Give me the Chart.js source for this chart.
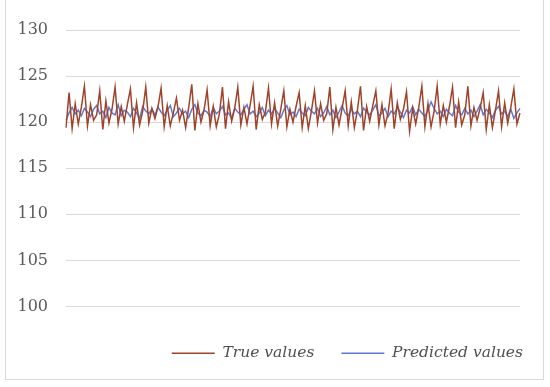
<!DOCTYPE html>
<html>
<head>
<meta charset="utf-8">
<script src="https://cdn.jsdelivr.net/npm/chart.js@4"></script>
<style>
  html, body { margin: 0; padding: 0; background: #ffffff; }
  #wrap { position: relative; width: 550px; height: 387px; }
  #frame { position: absolute; left: 5px; top: -1px; width: 539px; height: 381px;
           border: 1px solid #d9d9d9; box-sizing: border-box; }
  canvas { position: absolute; left: 0; top: 0; }
</style>
</head>
<body>
<div id="wrap">
  <div id="frame"></div>
  <canvas id="c" width="550" height="387"></canvas>
</div>
<script>
const seriesNames = ["True values", "Predicted values"];
const yTicks = [100, 105, 110, 115, 120, 125, 130];

const trueValues = [
  119.4,
  123.2, 119.3, 122.0, 119.8, 121.6,
  123.9, 119.6, 121.9, 120.2, 120.8,
  123.4, 119.2, 122.3, 119.9, 121.4,
  123.8, 119.8, 121.7, 120.1, 121.9,
  123.6, 119.4, 122.1, 119.7, 121.2,
  123.8, 119.9, 121.5, 120.4, 121.7,
  123.7, 119.5, 121.8, 119.6, 121.0,
  122.6, 120.2, 121.3, 119.4, 121.6,
  124.1, 119.1, 122.0, 120.0, 121.3,
  123.5, 119.6, 121.7, 119.5, 120.9,
  123.8, 119.3, 122.2, 120.1, 121.5,
  123.8, 119.7, 121.6, 119.8, 121.8,
  123.9, 119.2, 121.9, 120.3, 121.1,
  123.7, 119.8, 122.1, 119.6, 121.4,
  123.4, 119.5, 121.4, 120.0, 121.7,
  123.2, 119.4, 121.8, 119.3, 121.2,
  123.4, 119.9, 122.0, 120.2, 120.9,
  123.8, 119.2, 121.6, 119.7, 121.5,
  123.4, 119.6, 122.2, 119.4, 121.3,
  123.9, 119.1, 121.7, 120.1, 121.8,
  123.4, 119.7, 121.9, 119.6, 121.0,
  123.6, 119.3, 122.1, 120.3, 121.4,
  123.3, 119.0, 121.5, 119.8, 121.6,
  123.9, 119.5, 122.0, 119.5, 121.2,
  123.9, 119.8, 121.8, 120.0, 121.7,
  123.8, 119.4, 122.2, 119.7, 120.8,
  123.9, 119.6, 121.6, 120.2, 121.5,
  123.2, 119.2, 121.9, 119.4, 121.3,
  123.4, 119.5, 122.1, 119.9, 121.6,
  123.6, 119.8, 121.0
];

const predictedValues = [
  120.2, 121.0, 121.6, 120.9, 121.3, 120.7, 121.5, 121.1, 120.6, 121.4,
  121.8, 120.9, 121.2, 120.5, 121.6, 121.0, 120.8, 121.9, 120.7, 121.3,
  121.1, 120.6, 121.5, 121.0, 120.4, 121.7, 121.2, 120.9, 121.4, 120.8,
  121.6, 121.1, 120.7, 121.3, 121.8, 120.6, 121.0, 121.5, 120.9, 121.2,
  120.5, 121.4, 121.9, 121.0, 120.7, 121.3, 121.1, 120.6, 121.6, 120.9,
  121.2, 121.7, 120.8, 121.0, 120.4, 121.5, 121.1, 120.8, 121.4, 121.9,
  120.9, 121.2, 120.6, 121.0, 121.6, 120.7, 121.3, 120.9, 121.5, 121.0,
  120.5, 121.3, 121.8, 120.8, 121.1, 120.6, 121.4, 121.0, 120.7, 121.6,
  121.2, 120.9, 121.5, 120.6, 121.0, 121.7, 120.8, 121.3, 120.5, 121.1,
  121.8, 121.0, 120.7, 121.4, 120.9, 121.2, 120.6, 121.5, 121.1, 120.8,
  121.3, 121.9, 120.7, 121.0, 121.5, 120.6, 121.2, 120.9, 121.6, 121.1,
  120.5, 121.3, 121.0, 121.7, 120.8, 121.4, 121.0, 120.6, 121.3, 122.2,
  121.5, 120.9, 121.2, 120.6, 121.4, 121.0, 120.7, 121.8, 121.1, 120.8,
  121.5, 120.9, 121.3, 120.6, 121.2, 121.9, 120.8, 121.4, 121.0, 120.5,
  121.3, 121.7, 120.9, 121.2, 120.6, 121.4, 120.4, 121.0, 121.5
];

const categories = trueValues.map((_, i) => String(i + 1));

const textColor = '#595959';
const gridColor = '#d9d9d9';

new Chart(document.getElementById('c'), {
  type: 'line',
  data: {
    labels: categories,
    datasets: [
      {
        label: seriesNames[0],
        data: trueValues,
        borderColor: '#a0432a',
        backgroundColor: '#a0432a',
        borderWidth: 1.5,
        pointRadius: 0,
        tension: 0,
        pointStyle: 'line'
      },
      {
        label: seriesNames[1],
        data: predictedValues,
        borderColor: '#5b7bd5',
        backgroundColor: '#5b7bd5',
        borderWidth: 1.5,
        pointRadius: 0,
        tension: 0,
        pointStyle: 'line'
      }
    ]
  },
  options: {
    responsive: false,
    animation: false,
    layout: { padding: { left: 0, right: 0, top: 30, bottom: 16 } },
    plugins: {
      tooltip: { enabled: false },
      legend: {
        position: 'bottom',
        align: 'end',
        labels: {
          usePointStyle: true,
          pointStyleWidth: 43,
          padding: 27,
          color: '#505050',
          font: { family: 'DejaVu Serif', size: 15.5, style: 'italic' }
        }
      }
    },
    scales: {
      x: {
        display: true,
        grid: { display: false },
        border: { display: false },
        ticks: { display: false },
        afterFit: (s) => { s.height = 12; }
      },
      y: {
        min: 100,
        max: 130,
        afterBuildTicks: (s) => { s.ticks = yTicks.map(v => ({ value: v })); },
        afterFit: (s) => { s.width = 66; },
        grid: { color: gridColor, lineWidth: 1, drawTicks: false },
        border: { display: false },
        ticks: {
          padding: 18,
          color: textColor,
          font: { family: 'DejaVu Serif', size: 16 }
        }
      },
      yRight: {
        position: 'right',
        display: true,
        min: 100,
        max: 130,
        grid: { display: false },
        border: { display: false },
        ticks: { display: false },
        afterFit: (s) => { s.width = 30; }
      }
    }
  }
});
</script>
</body>
</html>
